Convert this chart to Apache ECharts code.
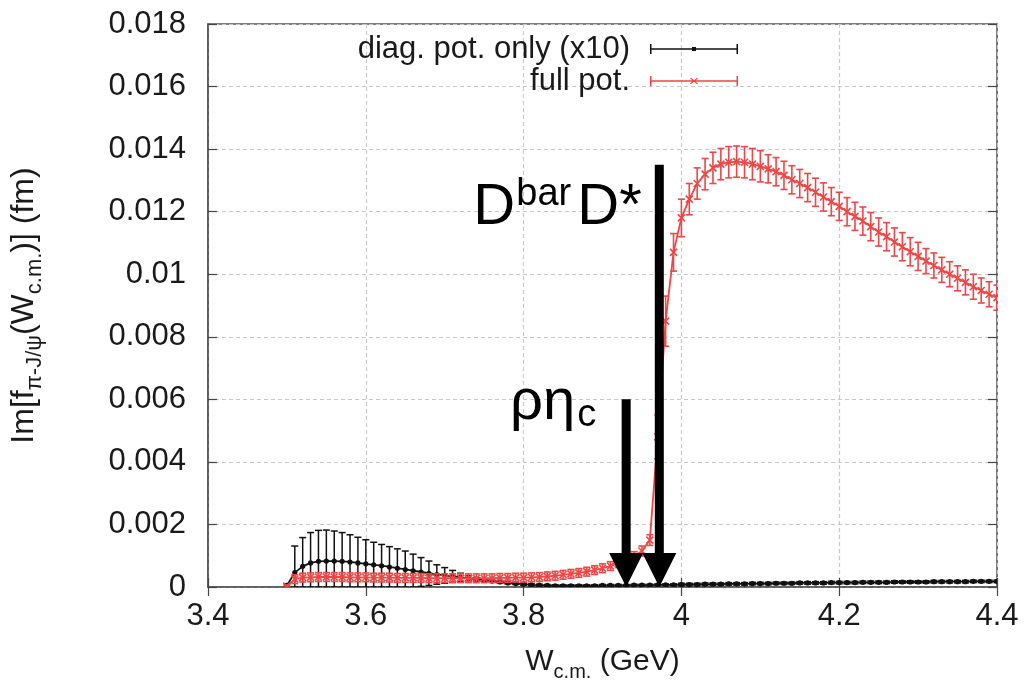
<!DOCTYPE html>
<html>
<head>
<meta charset="utf-8">
<script src="https://cdn.jsdelivr.net/npm/echarts@6/dist/echarts.min.js"></script>
<style>html,body{margin:0;padding:0;background:#fff}#c{width:1028px;height:687px}</style>
</head>
<body>
<div id="c"></div>
<script>
// ---- data ----
const xs = [
 3.50,3.51,3.52,3.53,3.54,3.55,3.56,3.57,3.58,3.59,
 3.60,3.61,3.62,3.63,3.64,3.65,3.66,3.67,3.68,3.69,
 3.70,3.71,3.72,3.73,3.74,3.75,3.76,3.77,3.78,3.79,
 3.80,3.81,3.82,3.83,3.84,3.85,3.86,3.87,3.88,3.89,
 3.90,3.91,3.92,3.93,3.94,3.95,3.96,3.97,3.98,3.99,
 4.00,4.01,4.02,4.03,4.04,4.05,4.06,4.07,4.08,4.09,
 4.10,4.11,4.12,4.13,4.14,4.15,4.16,4.17,4.18,4.19,
 4.20,4.21,4.22,4.23,4.24,4.25,4.26,4.27,4.28,4.29,
 4.30,4.31,4.32,4.33,4.34,4.35,4.36,4.37,4.38,4.39,
 4.40];
// diagonal potential only (x10): central values and errors
const diagMean = [
 0.00005,0.00046,0.00066,0.00077,0.00082,0.00083,0.00083,0.00082,0.00080,0.00077,
 0.00074,0.00071,0.00068,0.00064,0.00060,0.00056,0.00052,0.00048,0.00044,0.00040,
 0.00037,0.00034,0.00031,0.00028,0.00025,0.00022,0.00019,0.00016,0.00013,0.00011,
 0.00009,0.00007,0.00006,0.00005,0.00004,0.00004,0.00004,0.00004,0.00004,0.00004,
 0.00005,0.00005,0.00005,0.00005,0.00006,0.00006,0.00006,0.00007,0.00007,0.00007,
 0.00008,0.00008,0.00008,0.00009,0.00009,0.00009,0.00010,0.00010,0.00010,0.00011,
 0.00011,0.00011,0.00012,0.00012,0.00012,0.00013,0.00013,0.00013,0.00013,0.00014,
 0.00014,0.00014,0.00014,0.00015,0.00015,0.00015,0.00015,0.00016,0.00016,0.00016,
 0.00016,0.00016,0.00017,0.00017,0.00017,0.00017,0.00017,0.00018,0.00018,0.00018,
 0.00018];
const diagErr = [
 0.00005,0.00085,0.00092,0.00097,0.00099,0.00099,0.00096,0.00092,0.00087,0.00082,
 0.00077,0.00072,0.00068,0.00065,0.00062,0.00059,0.00053,0.00046,0.00039,0.00031,
 0.00025,0.00019,0.00013,0.00008,0.00005,0.00004,0.00003,0.00003,0.00003,0.00003,
 0.00003,0.00003,0.00003,0.00003,0.00003,0.00003,0.00003,0.00003,0.00003,0.00003,
 0.00003,0.00003,0.00003,0.00003,0.00003,0.00003,0.00003,0.00003,0.00003,0.00003,
 0.00004,0.00004,0.00004,0.00004,0.00004,0.00004,0.00004,0.00004,0.00004,0.00004,
 0.00004,0.00004,0.00004,0.00004,0.00004,0.00004,0.00004,0.00004,0.00004,0.00004,
 0.00004,0.00004,0.00004,0.00004,0.00004,0.00004,0.00004,0.00004,0.00004,0.00004,
 0.00004,0.00004,0.00004,0.00004,0.00004,0.00004,0.00004,0.00004,0.00004,0.00004,
 0.00004];
// full potential: central values and errors
const fullMean = [
 0.00003,0.00025,0.00030,0.00031,0.00032,0.00032,0.00032,0.00032,0.00031,0.00031,
 0.00031,0.00030,0.00030,0.00030,0.00029,0.00029,0.00029,0.00029,0.00028,0.00028,
 0.00028,0.00028,0.00028,0.00028,0.00028,0.00028,0.00028,0.00029,0.00029,0.00030,
 0.00030,0.00031,0.00032,0.00034,0.00036,0.00039,0.00042,0.00045,0.00049,0.00054,
 0.00060,0.00067,0.00076,0.00086,0.00098,0.00115,0.00150,0.00480,0.00850,0.01070,
 0.01180,0.01240,0.01290,0.01320,0.01340,0.01352,0.01358,0.01360,0.01358,0.01352,
 0.01345,0.01337,0.01328,0.01316,0.01302,0.01290,0.01277,0.01262,0.01247,0.01232,
 0.01217,0.01200,0.01185,0.01170,0.01152,0.01135,0.01120,0.01103,0.01088,0.01072,
 0.01057,0.01042,0.01028,0.01014,0.01000,0.00987,0.00974,0.00960,0.00948,0.00936,
 0.00925];
const fullErr = [
 0.00003,0.00014,0.00014,0.00014,0.00014,0.00014,0.00014,0.00014,0.00014,0.00014,
 0.00014,0.00014,0.00014,0.00014,0.00014,0.00014,0.00014,0.00014,0.00014,0.00014,
 0.00014,0.00014,0.00014,0.00014,0.00014,0.00014,0.00014,0.00014,0.00014,0.00014,
 0.00014,0.00014,0.00014,0.00014,0.00014,0.00014,0.00014,0.00014,0.00014,0.00014,
 0.00014,0.00014,0.00014,0.00014,0.00015,0.00016,0.00017,0.00070,0.00080,0.00060,
 0.00060,0.00050,0.00050,0.00050,0.00050,0.00050,0.00050,0.00050,0.00050,0.00050,
 0.00050,0.00045,0.00045,0.00045,0.00045,0.00045,0.00045,0.00045,0.00045,0.00045,
 0.00045,0.00045,0.00045,0.00045,0.00045,0.00045,0.00045,0.00045,0.00045,0.00045,
 0.00045,0.00040,0.00040,0.00040,0.00040,0.00040,0.00040,0.00040,0.00040,0.00040,
 0.00040];
// threshold arrows: position (GeV) and top value
const arrowX = [3.930, 3.972];
const arrowTop = [0.006, 0.0135];
const seriesNames = ['diag. pot. only (x10)', 'full pot.'];
const xTicks = {min: 3.4, max: 4.4, interval: 0.2};
const yTicks = {min: 0, max: 0.018, interval: 0.002};

// ---- chart ----
const FONT = "'Liberation Sans', Arial, Helvetica, sans-serif";
const BLACK = '#111111';
const RED = '#ee4646';
const chart = echarts.init(document.getElementById('c'), null, {renderer: 'canvas'});

function errRender(color, marker, lw) {
  return function (params, api) {
    const x = api.value(0), y = api.value(1), e = api.value(2);
    const c = api.coord([x, y]);
    const hi = api.coord([x, y + e]);
    const lo = api.coord([x, Math.max(0, y - e)]);
    const cap = 3.5;
    const st = {stroke: color, lineWidth: lw};
    const ch = [
      {type: 'line', shape: {x1: c[0], y1: hi[1], x2: c[0], y2: lo[1]}, style: st},
      {type: 'line', shape: {x1: c[0] - cap, y1: hi[1], x2: c[0] + cap, y2: hi[1]}, style: st},
      {type: 'line', shape: {x1: c[0] - cap, y1: lo[1], x2: c[0] + cap, y2: lo[1]}, style: st}
    ];
    if (marker === 'x') {
      ch.push({type: 'line', shape: {x1: c[0] - 3.5, y1: c[1] - 3.5, x2: c[0] + 3.5, y2: c[1] + 3.5}, style: st});
      ch.push({type: 'line', shape: {x1: c[0] - 3.5, y1: c[1] + 3.5, x2: c[0] + 3.5, y2: c[1] - 3.5}, style: st});
    } else {
      ch.push({type: 'circle', shape: {cx: c[0], cy: c[1], r: 2.6}, style: {fill: color}});
    }
    return {type: 'group', children: ch};
  };
}

function arrowRender(params, api) {
  const i = params.dataIndex;
  const top = api.coord([api.value(0), api.value(1)]);
  const base = api.coord([api.value(0), 0]);
  const x = top[0];
  const headH = 34, headHalf = 17, shaftW = 9;
  const ch = [
    {type: 'rect', shape: {x: x - shaftW / 2, y: top[1], width: shaftW, height: base[1] - headH - top[1] + 1}, style: {fill: '#000'}},
    {type: 'polygon', shape: {points: [[x - headHalf, base[1] - headH], [x + headHalf, base[1] - headH], [x, base[1]]]}, style: {fill: '#000'}}
  ];
  const big = '58px ' + FONT, small = '38px ' + FONT;
  if (i === 0) {
    ch.push({type: 'text', style: {text: 'ρη', x: x - 51, y: top[1] + 4, font: big, fill: '#000', align: 'right', verticalAlign: 'middle'}});
    ch.push({type: 'text', style: {text: 'c', x: x - 49, y: top[1] + 16, font: small, fill: '#000', align: 'left', verticalAlign: 'middle'}});
  } else {
    ch.push({type: 'text', style: {text: 'D', x: x - 186, y: top[1] + 43, font: big, fill: '#000', align: 'left', verticalAlign: 'middle'}});
    ch.push({type: 'text', style: {text: 'bar', x: x - 143, y: top[1] + 30, font: small, fill: '#000', align: 'left', verticalAlign: 'middle'}});
    ch.push({type: 'text', style: {text: 'D*', x: x - 82, y: top[1] + 43, font: big, fill: '#000', align: 'left', verticalAlign: 'middle'}});
  }
  return {type: 'group', children: ch};
}

const diagData = xs.map((x, i) => [x, diagMean[i], diagErr[i]]);
const fullData = xs.map((x, i) => [x, fullMean[i], fullErr[i]]);
const arrowData = arrowX.map((x, i) => [x, arrowTop[i]]);

const iconBase = 'M0,4.3H88V5.7H0Z M0,0H1.5V10H0Z M86.5,0H88V10H86.5Z';
const iconDiag = 'path://' + iconBase + ' M42,3H46V7H42Z';
const iconFull = 'path://' + iconBase + ' M40,2.6L40.9,1.8L48,7.4L47.1,8.2Z M40,7.4L47.1,1.8L48,2.6L40.9,8.2Z';

const axisTickStyle = {lineStyle: {color: '#444', width: 1.2}};
const splitStyle = {show: true, lineStyle: {type: [4, 3], color: '#c8c8c8', width: 1.2}};

const option = {
  animation: false,
  backgroundColor: '#fff',
  textStyle: {fontFamily: FONT},
  grid: {left: 207, right: 31, top: 24, bottom: 100, show: true, borderColor: '#555', borderWidth: 1.6, backgroundColor: 'transparent'},
  legend: {
    orient: 'vertical', align: 'right', right: 290, top: 33, padding: 0, itemGap: 0,
    itemWidth: 88, itemHeight: 10,
    textStyle: {fontSize: 31, lineHeight: 32, color: '#1a1a1a', fontFamily: FONT, padding: [0, 15, 0, 0]},
    data: [{name: seriesNames[0], icon: iconDiag}, {name: seriesNames[1], icon: iconFull}]
  },
  xAxis: [{
    type: 'value', min: xTicks.min, max: xTicks.max, interval: xTicks.interval,
    axisLine: {show: true, lineStyle: {color: '#555', width: 1.6}},
    axisTick: Object.assign({show: true, inside: true, length: 9}, axisTickStyle),
    axisLabel: {fontSize: 31, color: '#1a1a1a', margin: 14, fontFamily: FONT},
    splitLine: splitStyle,
    name: '{m|W}{s|c.m.}{m| (GeV)}', nameLocation: 'middle', nameGap: 60,
    nameTextStyle: {rich: {
      m: {fontSize: 30, lineHeight: 30, color: '#1a1a1a', fontFamily: FONT, verticalAlign: 'top'},
      s: {fontSize: 20, lineHeight: 20, color: '#1a1a1a', fontFamily: FONT, verticalAlign: 'top', padding: [15, 0, 0, 0]}
    }}
  }, {
    type: 'value', position: 'top', min: xTicks.min, max: xTicks.max, interval: xTicks.interval,
    axisLine: {show: false}, axisTick: Object.assign({show: true, inside: true, length: 9}, axisTickStyle),
    axisLabel: {show: false}, splitLine: {show: false}
  }],
  yAxis: [{
    type: 'value', min: yTicks.min, max: yTicks.max, interval: yTicks.interval,
    axisLine: {show: true, lineStyle: {color: '#555', width: 1.6}},
    axisTick: Object.assign({show: true, inside: true, length: 9}, axisTickStyle),
    axisLabel: {fontSize: 31, color: '#1a1a1a', margin: 22, fontFamily: FONT},
    splitLine: splitStyle,
    name: '{m|Im[f}{s|π-J/ψ}{m|(W}{s|c.m.}{m|)] (fm)}', nameLocation: 'middle', nameRotate: 90, nameGap: 168,
    nameTextStyle: {rich: {
      m: {fontSize: 32, lineHeight: 32, color: '#1a1a1a', fontFamily: FONT, verticalAlign: 'top'},
      s: {fontSize: 22, lineHeight: 22, color: '#1a1a1a', fontFamily: FONT, verticalAlign: 'top', padding: [16, 0, 0, 0]}
    }}
  }, {
    type: 'value', position: 'right', min: yTicks.min, max: yTicks.max, interval: yTicks.interval,
    axisLine: {show: false}, axisTick: Object.assign({show: true, inside: true, length: 9}, axisTickStyle),
    axisLabel: {show: false}, splitLine: {show: false}
  }],
  series: [
    {name: seriesNames[0], type: 'custom', data: diagData, renderItem: errRender(BLACK, 'dot', 1.5),
     encode: {x: 0, y: 1}, itemStyle: {color: BLACK}, z: 2, clip: true},
    {name: seriesNames[0], type: 'line', data: diagData, encode: {x: 0, y: 1}, symbol: 'none',
     lineStyle: {color: BLACK, width: 1.8}, itemStyle: {color: BLACK}, z: 3},
    {name: seriesNames[1], type: 'custom', data: fullData, renderItem: errRender(RED, 'x', 1.6),
     encode: {x: 0, y: 1}, itemStyle: {color: RED}, z: 4, clip: true},
    {name: seriesNames[1], type: 'line', data: fullData, encode: {x: 0, y: 1}, symbol: 'none',
     lineStyle: {color: RED, width: 1.8}, itemStyle: {color: RED}, z: 5},
    {name: 'arrows', type: 'custom', data: arrowData, renderItem: arrowRender,
     encode: {x: 0, y: 1}, z: 10, silent: true}
  ]
};
chart.setOption(option);
</script>
</body>
</html>
